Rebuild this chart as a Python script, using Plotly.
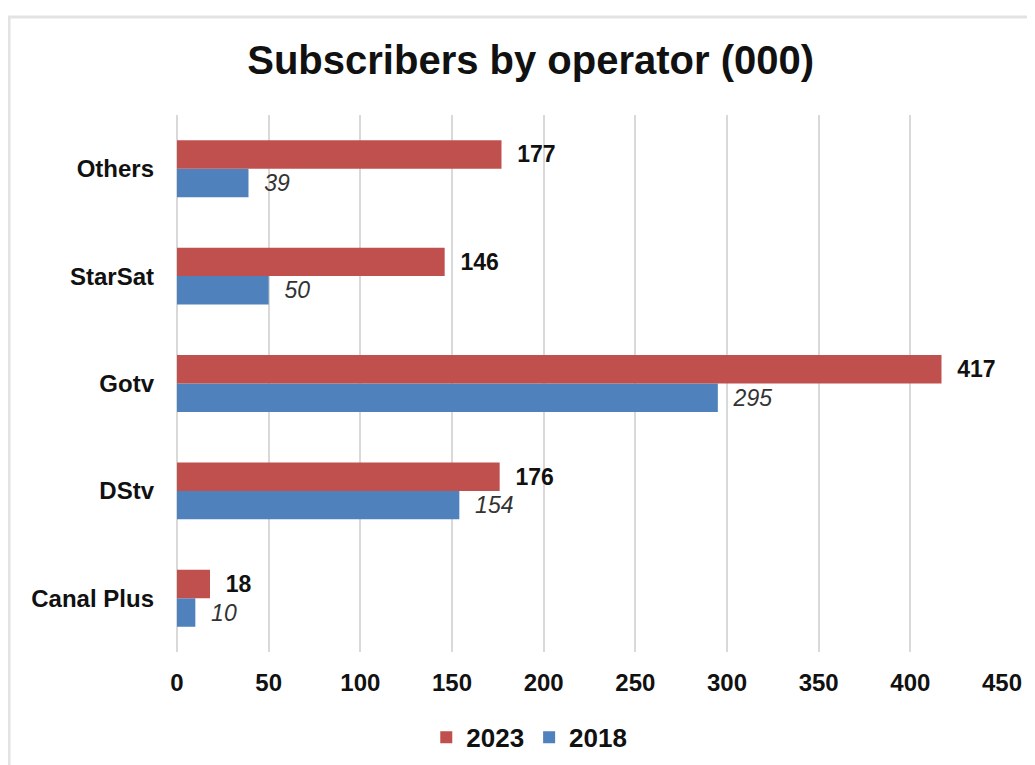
import plotly.graph_objects as go

categories = ["Canal Plus", "DStv", "Gotv", "StarSat", "Others"]
values_2023 = [18, 176, 417, 146, 177]
values_2018 = [10, 154, 295, 50, 39]
x_ticks = [0, 50, 100, 150, 200, 250, 300, 350, 400, 450]

RED = "#C0504D"
BLUE = "#4F81BD"
FONT = "Liberation Sans, Arial, sans-serif"

fig = go.Figure()
fig.add_trace(go.Bar(
    y=categories, x=values_2018, orientation="h", name="2018",
    marker=dict(color=BLUE, line=dict(width=0)),
    text=values_2018, texttemplate="\u00a0\u00a0%{x}", textposition="outside", cliponaxis=False,
    textfont=dict(family=FONT, size=23, color="#333333", style="italic"),
))
fig.add_trace(go.Bar(
    y=categories, x=values_2023, orientation="h", name="2023",
    marker=dict(color=RED, line=dict(width=0)),
    text=values_2023, texttemplate="\u00a0\u00a0%{x}", textposition="outside", cliponaxis=False,
    textfont=dict(family=FONT, size=23, color="#111111", weight="bold"),
))

fig.update_layout(
    width=1035, height=765,
    paper_bgcolor="white", plot_bgcolor="white",
    margin=dict(l=169, r=41, t=107, b=121),
    barmode="group", bargap=0.47, bargroupgap=0,
    font=dict(family=FONT, size=23, color="#111111"),
    title=dict(text="<b>Subscribers by operator (000)</b>", x=0.505, xanchor="center",
               y=0.932, yanchor="middle",
               font=dict(family=FONT, size=40, color="#111111")),
    legend=dict(orientation="h", traceorder="reversed", x=0.427, xanchor="center",
                y=-0.159, yanchor="middle",
                font=dict(family=FONT, size=26, color="#111111", weight="bold"),
                itemwidth=30),
    showlegend=True,
    shapes=[dict(type="rect", xref="paper", yref="paper",
                 x0=-0.2036, x1=1.2, y0=-0.5, y1=1.1826,
                 line=dict(color="#E3E3E3", width=3), layer="below")],
)
fig.update_xaxes(
    range=[0, 450], tickvals=x_ticks, ticktext=[str(v) for v in x_ticks],
    showgrid=True, gridcolor="#D9D9D9", gridwidth=2, zeroline=True,
    zerolinecolor="#D9D9D9", zerolinewidth=2, showline=False,
    ticklabelstandoff=14,
    tickfont=dict(family=FONT, size=24, color="#111111", weight="bold"),
)
fig.update_yaxes(
    categoryorder="array", categoryarray=categories,
    showgrid=False, showline=False, ticks="", ticklabelstandoff=22,
    tickfont=dict(family=FONT, size=24, color="#111111", weight="bold"),
)

fig.write_html("out.html")
